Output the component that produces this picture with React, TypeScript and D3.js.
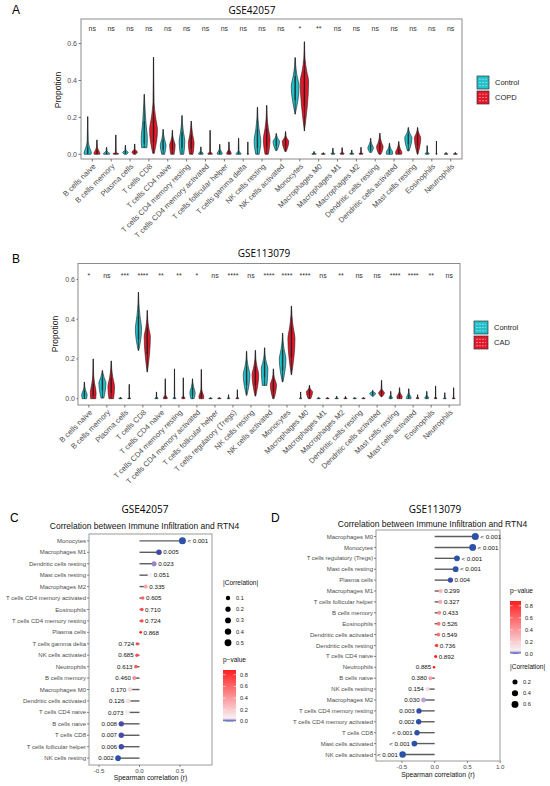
import React from 'react';
import * as d3 from 'd3';

// ---------- DATA ----------
// violin tuple: [lo, peak, bodyTop, hi, relWidth, baseWidth]
type V = [number, number, number, number, number, number];

const cellsA = ["B cells naive","B cells memory","Plasma cells","T cells CD8","T cells CD4 naive","T cells CD4 memory resting","T cells CD4 memory activated","T cells follicular helper","T cells gamma delta","NK cells resting","NK cells activated","Monocytes","Macrophages M0","Macrophages M1","Macrophages M2","Dendritic cells resting","Dendritic cells activated","Mast cells resting","Eosinophils","Neutrophils"];
const sigA = ["ns","ns","ns","ns","ns","ns","ns","ns","ns","ns","ns","*","**","ns","ns","ns","ns","ns","ns","ns"];
const controlA: V[] = [
  [0,0.005,0.07,0.204,0.8,0.9],[0,0.003,0.02,0.038,0.7,0.9],[0,0.01,0.025,0.049,0.6,0.4],[0.036,0.08,0.28,0.325,0.66,0.85],
  [0,0.05,0.11,0.135,0.62,0.5],[0,0.07,0.17,0.21,0.62,0.6],[0,0.004,0.02,0.04,0.5,0.9],[0,0.005,0.03,0.054,0.55,0.9],
  [0,0.003,0.02,0.087,0.55,0.9],[0,0.07,0.2,0.255,0.72,0.5],[0.02,0.07,0.1,0.113,0.7,0.2],[0.217,0.367,0.48,0.524,0.85,0],
  [0,0.002,0.008,0.015,0.5,0.8],[0,0.003,0.012,0.033,0.45,0.8],[0,0.003,0.01,0.023,0.45,0.8],[0.01,0.035,0.07,0.087,0.6,0.3],
  [0,0.01,0.045,0.06,0.7,0.9],[0.018,0.09,0.13,0.145,0.78,0.2],[0,0.003,0.015,0.047,0.45,0.8],[0,0.002,0.005,0.01,0.45,0.8]
];
const copdA: V[] = [
  [0,0.005,0.04,0.078,0.65,0.9],[0,0.003,0.01,0.105,0.6,0.9],[0,0.012,0.028,0.056,0.6,0.4],[0.005,0.13,0.28,0.526,0.85,0.2],
  [0,0.05,0.1,0.13,0.6,0.6],[0,0.06,0.15,0.18,0.62,0.6],[0,0.003,0.015,0.13,0.5,0.9],[0,0.005,0.03,0.067,0.5,0.9],
  [0,0.002,0.006,0.067,0.2,0.6],[0,0.08,0.2,0.265,0.72,0.5],[0.015,0.07,0.1,0.123,0.7,0.2],[0.126,0.394,0.52,0.61,0.9,0],
  [0,0.002,0.005,0.009,0.45,0.8],[0,0.003,0.014,0.036,0.45,0.8],[0,0.003,0.012,0.038,0.45,0.8],[0,0.04,0.09,0.114,0.7,0.3],
  [0,0.01,0.05,0.069,0.68,0.9],[0,0.09,0.13,0.145,0.68,0.1],[0,0.002,0.006,0.072,0.15,0.6],[0,0.002,0.005,0.01,0.45,0.8]
];

const cellsB = ["B cells naive","B cells memory","Plasma cells","T cells CD8","T cells CD4 naive","T cells CD4 memory resting","T cells CD4 memory activated","T cells follicular helper","T cells regulatory (Tregs)","NK cells resting","NK cells activated","Monocytes","Macrophages M0","Macrophages M1","Macrophages M2","Dendritic cells resting","Dendritic cells activated","Mast cells resting","Mast cells activated","Eosinophils","Neutrophils"];
const sigB = ["*","ns","***","****","**","**","*","ns","****","ns","****","****","****","ns","**","ns","ns","****","****","**","ns"];
const controlB: V[] = [
  [0,0.02,0.06,0.084,0.62,0.8],[0.003,0.08,0.13,0.142,0.8,0.4],[0,0.002,0.004,0.008,0.4,0.8],[0.243,0.35,0.48,0.536,0.7,0.1],
  [0,0.002,0.01,0.034,0.4,0.8],[0,0.002,0.01,0.15,0.35,0.8],[0,0.03,0.08,0.1,0.6,0.6],[0,0.002,0.004,0.006,0.4,0.8],
  [0,0.002,0.006,0.02,0.35,0.8],[0.017,0.12,0.2,0.238,0.75,0.1],[0.067,0.15,0.22,0.256,0.75,0.7],[0.084,0.2,0.29,0.33,0.75,0.1],
  [0,0.002,0.006,0.034,0.3,0.8],[0,0.002,0.004,0.006,0.4,0.8],[0,0.002,0.005,0.013,0.4,0.8],[0,0.002,0.004,0.006,0.4,0.8],
  [0.012,0.027,0.037,0.042,0.65,0.2],[0,0.004,0.02,0.037,0.4,0.8],[0,0.005,0.03,0.05,0.55,0.9],[0,0.004,0.02,0.037,0.45,0.8],
  [0,0.002,0.006,0.03,0.35,0.8]
];
const cadB: V[] = [
  [0,0.03,0.12,0.2,0.65,0.9],[0,0.06,0.15,0.19,0.75,0.7],[0,0.002,0.004,0.072,0.35,0.8],[0.134,0.31,0.4,0.444,0.7,0.05],
  [0,0.003,0.02,0.1,0.5,0.8],[0,0.003,0.015,0.105,0.4,0.8],[0,0.01,0.05,0.147,0.55,0.9],[0,0.002,0.004,0.006,0.4,0.8],
  [0,0.002,0.008,0.045,0.35,0.8],[0.013,0.12,0.2,0.243,0.75,0.1],[0,0.07,0.12,0.15,0.7,0.2],[0.12,0.3,0.42,0.466,0.8,0.05],
  [0,0.035,0.055,0.067,0.7,0.4],[0,0.002,0.004,0.006,0.4,0.8],[0,0.002,0.005,0.012,0.4,0.8],[0,0.002,0.004,0.006,0.4,0.8],
  [0.01,0.03,0.05,0.092,0.65,0.2],[0,0.01,0.035,0.055,0.6,0.9],[0,0.003,0.01,0.02,0.3,0.8],[0,0.003,0.01,0.064,0.3,0.8],
  [0,0.002,0.006,0.055,0.35,0.8]
];
const violinTicks = [0, 0.2, 0.4, 0.6];

const cellsC = ["Monocytes","Macrophages M1","Dendritic cells resting","Mast cells resting","Macrophages M2","T cells CD4 memory activated","Eosinophils","T cells CD4 memory resting","Plasma cells","T cells gamma delta","NK cells activated","Neutrophils","B cells memory","Macrophages M0","Dendritic cells activated","T cells CD4 naive","B cells naive","T cells CD8","T cells follicular helper","NK cells resting"];
const rC = [0.53,0.24,0.18,0.13,0.077,0.04,0.03,0.03,0.015,-0.028,-0.032,-0.045,-0.064,-0.117,-0.138,-0.15,-0.225,-0.225,-0.225,-0.265];
const pC = [0.0005,0.005,0.023,0.051,0.335,0.605,0.710,0.724,0.868,0.724,0.685,0.613,0.460,0.170,0.126,0.073,0.008,0.007,0.006,0.002];
const ticksC = [-0.5, 0, 0.5];
const sizeBreaksC = [0.1, 0.2, 0.3, 0.4, 0.5];

const cellsD = ["Macrophages M0","Monocytes","T cells regulatory (Tregs)","Mast cells resting","Plasma cells","Macrophages M1","T cells follicular helper","B cells memory","Eosinophils","Dendritic cells activated","Dendritic cells resting","T cells CD4 naive","Neutrophils","B cells naive","NK cells resting","Macrophages M2","T cells CD4 memory resting","T cells CD4 memory activated","T cells CD8","Mast cells activated","NK cells activated"];
const rD = [0.62,0.58,0.34,0.32,0.24,0.09,0.086,0.07,0.06,0.056,0.03,0.015,-0.01,-0.066,-0.11,-0.17,-0.24,-0.245,-0.27,-0.31,-0.49];
const pD = [0.0005,0.0005,0.0005,0.0005,0.004,0.299,0.327,0.433,0.526,0.549,0.736,0.892,0.885,0.380,0.154,0.030,0.003,0.002,0.0005,0.0005,0.0005];
const ticksD = [-0.5, 0, 0.5, 1.0];
const sizeBreaksD = [0.2, 0.4, 0.6];
const pBreaks = [0, 0.2, 0.4, 0.6, 0.8];

// ---------- STYLE ----------
const FONT = '"Liberation Sans", Arial, sans-serif';
const TFONT = '"Open Sans", "Liberation Sans", sans-serif';
const CTRL = '#22C0CB';
const CASE = '#E5182B';
const GRAY = '#4D4D4D';

const pColor = d3.scaleLinear<string>()
  .domain([0, 0.002, 0.008, 0.03, 0.05, 0.9])
  .range(['#2A52A8', '#2E4FA7', '#4C4AA4', '#B9A3DA', '#F8F2F6', '#FF1A1A'])
  .clamp(true);

function violinPath(v: V, cx: number, y: d3.ScaleLinear<number, number>, half: number) {
  const [lo, peak, top, hi, w, b] = v;
  const raw: [number, number][] = [[lo, b], [peak, 1], [(peak + top) / 2, 0.5], [top, 0.14], [hi, 0.03]];
  const pts: [number, number][] = [];
  raw.forEach(pt => { if (!pts.length || pt[0] > pts[pts.length - 1][0] + 1e-6) pts.push(pt); });
  const area = d3.area<[number, number]>()
    .y(d => y(d[0]))
    .x0(d => cx - d[1] * w * half)
    .x1(d => cx + d[1] * w * half)
    .curve(d3.curveMonotoneY);
  return area(pts) || '';
}

type VP = {
  cats: string[]; sig: string[]; ctrl: V[]; cas: V[]; caseName: string;
  x0: number; x1: number; y0: number; y1: number; yDom: [number, number];
  title: string; titleX: number; titleY: number; letter: string; letterY: number;
  yTitleX: number; yTitleY: number; tickLabelX: number; sigY: number;
  legX: number; legY: number; keyW: number; keyH: number; keyGap: number;
};

function ViolinPanel(p: VP) {
  const x = d3.scalePoint<string>().domain(p.cats).range([p.x0, p.x1]).padding(0.6);
  const y = d3.scaleLinear().domain(p.yDom).range([p.y1, p.y0]);
  const step = x.step();
  const off = step * 0.245;
  const half = step * 0.245;
  const groups = [{ data: p.ctrl, color: CTRL, dx: -off }, { data: p.cas, color: CASE, dx: off }];
  return (
    <g>
      <text x={12} y={p.letterY} fontFamily={FONT} fontSize={12}>{p.letter}</text>
      <text x={p.titleX} y={p.titleY} fontFamily={TFONT} fontSize={10} textAnchor="middle">{p.title}</text>
      <rect x={p.x0} y={p.y0} width={p.x1 - p.x0} height={p.y1 - p.y0} fill="white" stroke="#8c8c8c" strokeWidth={1} />
      {violinTicks.map(t => (
        <g key={t}>
          <line x1={p.tickLabelX + 1.5} x2={p.x0} y1={y(t)} y2={y(t)} stroke="#555" strokeWidth={0.8} />
          <text x={p.tickLabelX} y={y(t)} dy="0.35em" textAnchor="end" fontFamily={FONT} fontSize={7} fill={GRAY}>{t.toFixed(1)}</text>
        </g>
      ))}
      <text transform={`translate(${p.yTitleX},${p.yTitleY}) rotate(-90)`} textAnchor="middle" fontFamily={FONT} fontSize={8.5} fill="#222">Propotion</text>
      {p.cats.map((c, i) => {
        const cx = x(c)!;
        return (
          <g key={c}>
            <line x1={cx} x2={cx} y1={p.y1} y2={p.y1 + 2.5} stroke="#555" strokeWidth={0.8} />
            <text transform={`translate(${cx + 2},${p.y1 + 6}) rotate(-45)`} textAnchor="end" dy="0.35em" fontFamily={FONT} fontSize={7.6} fill={GRAY}>{c}</text>
            <text x={cx} y={p.sigY} dy="0.3em" textAnchor="middle" fontFamily={FONT} fontSize={7} fill="#333">{p.sig[i]}</text>
            {groups.map((g, gi) => {
              const v = g.data[i];
              const vx = cx + g.dx;
              const [lo, peak, top, hi] = v;
              return (
                <g key={gi}>
                  <path d={violinPath(v, vx, y, half)} fill={g.color} stroke="#1e1e1e" strokeWidth={0.6} />
                  <line x1={vx} x2={vx} y1={y(lo)} y2={y(hi)} stroke="#1a1a1a" strokeWidth={0.7} />
                  <rect x={vx - 0.8} width={1.6} y={y(peak + (top - peak) * 0.5)} height={Math.max(0.6, y(lo + (peak - lo) * 0.5) - y(peak + (top - peak) * 0.5))} fill="#1a1a1a" opacity={0.55} />
                </g>
              );
            })}
          </g>
        );
      })}
      {[{ name: 'Control', color: CTRL }, { name: p.caseName, color: CASE }].map((l, i) => {
        const ky = p.legY + i * (p.keyH + p.keyGap);
        return (
          <g key={l.name}>
            <rect x={p.legX} y={ky} width={p.keyW} height={p.keyH} fill={l.color} stroke="#333" strokeWidth={0.7} />
            {[0.25, 0.5, 0.75].map(f => (
              <line key={f} x1={p.legX + 2} x2={p.legX + p.keyW - 2} y1={ky + p.keyH * f} y2={ky + p.keyH * f} stroke="rgba(255,255,255,0.55)" strokeWidth={0.8} strokeDasharray="2 1" />
            ))}
            <text x={p.legX + p.keyW + 6} y={ky + p.keyH / 2} dy="0.35em" fontFamily={FONT} fontSize={7.5} fill="#222">{l.name}</text>
          </g>
        );
      })}
    </g>
  );
}

type LP = {
  cats: string[]; r: number[]; p: number[]; ticks: number[];
  x0: number; x1: number; y0: number; y1: number; xDom: [number, number];
  title: string; titleX: number; subX: number; subY: number; letter: string; letterX: number;
  sizeBreaks: number[]; legX: number; sizeY: number; colorY: number; barW: number; barPx: number; gid: string;
  tickGap: number; titleGap: number;
};

function LollipopPanel(q: LP) {
  const x = d3.scaleLinear().domain(q.xDom).range([q.x0, q.x1]);
  const y = d3.scalePoint<string>().domain(q.cats).range([q.y0, q.y1]).padding(0.6);
  const ext = d3.extent(q.r.map(Math.abs)) as [number, number];
  const rad = (a: number) => 1.3 + 2.2 * Math.sqrt(Math.max(0, (a - ext[0]) / (ext[1] - ext[0])));
  const fmt = (pv: number) => (pv < 0.001 ? '< 0.001' : pv.toFixed(3));
  const pTop = 0.88;
  const stops = d3.range(0, 41).map(i => (i / 40) * pTop);
  const barBottom = q.colorY + 8 + q.barPx * pTop;
  const barY = d3.scaleLinear().domain([0, pTop]).range([barBottom, barBottom - q.barPx * pTop]);
  return (
    <g>
      <defs>
        <linearGradient id={q.gid} x1="0" y1="1" x2="0" y2="0">
          {stops.map((s, i) => <stop key={i} offset={`${(s / pTop) * 100}%`} stopColor={pColor(s)} />)}
        </linearGradient>
      </defs>
      <text x={q.letterX} y={522} fontFamily={FONT} fontSize={12}>{q.letter}</text>
      <text x={q.titleX} y={513} fontFamily={TFONT} fontSize={10} textAnchor="middle">{q.title}</text>
      <text x={q.subX} y={q.subY} fontFamily={FONT} fontSize={8.5} textAnchor="middle" fill="#111">Correlation between Immune Infiltration and RTN4</text>
      <rect x={q.x0} y={q.y0} width={q.x1 - q.x0} height={q.y1 - q.y0} fill="white" stroke="#9a9a9a" strokeWidth={1} />
      {q.ticks.map(t => (
        <g key={t}>
          <line x1={x(t)} x2={x(t)} y1={q.y1} y2={q.y1 + 2} stroke="#555" strokeWidth={0.7} />
          <text x={x(t)} y={q.y1 + q.tickGap} dy="0.7em" textAnchor="middle" fontFamily={FONT} fontSize={6.2} fill={GRAY}>{t.toFixed(1)}</text>
        </g>
      ))}
      <text x={(q.x0 + q.x1) / 2} y={q.y1 + q.titleGap} dy="0.7em" textAnchor="middle" fontFamily={FONT} fontSize={6.8} fill="#111">Spearman correlation (r)</text>
      {q.cats.map((c, i) => {
        const cy = y(c)!;
        const rv = q.r[i];
        const cx = x(rv);
        const rr = rad(Math.abs(rv));
        return (
          <g key={c}>
            <line x1={q.x0 - 2} x2={q.x0} y1={cy} y2={cy} stroke="#555" strokeWidth={0.7} />
            <text x={q.x0 - 3} y={cy} dy="0.35em" textAnchor="end" fontFamily={FONT} fontSize={6} fill={GRAY}>{c}</text>
            <line x1={x(0)} x2={cx} y1={cy} y2={cy} stroke="#5c5c5c" strokeWidth={1.4} />
            <circle cx={cx} cy={cy} r={rr} fill={pColor(q.p[i])} />
            <text x={rv >= 0 ? cx + rr + 1.5 : cx - rr - 1.5} y={cy} dy="0.35em" textAnchor={rv >= 0 ? 'start' : 'end'} fontFamily={FONT} fontSize={6.2} fill="#111">{fmt(q.p[i])}</text>
          </g>
        );
      })}
      {/* size legend */}
      <text x={q.legX} y={q.sizeY} fontFamily={FONT} fontSize={6.5} fill="#111">|Correlation|</text>
      {q.sizeBreaks.map((s, i) => (
        <g key={s}>
          <circle cx={q.legX + 5} cy={q.sizeY + 13 + i * 11.2} r={rad(s)} fill="black" />
          <text x={q.legX + 13} y={q.sizeY + 13 + i * 11.2} dy="0.35em" fontFamily={FONT} fontSize={5.6} fill="#222">{s.toFixed(1)}</text>
        </g>
      ))}
      {/* color legend */}
      <text x={q.legX} y={q.colorY} fontFamily={FONT} fontSize={6.5} fill="#111">p−value</text>
      <rect x={q.legX} y={barY(pTop)} width={q.barW} height={barY(0) - barY(pTop)} fill={`url(#${q.gid})`} />
      {pBreaks.map(b => (
        <g key={b}>
          <line x1={q.legX} x2={q.legX + 2.5} y1={barY(b)} y2={barY(b)} stroke="white" strokeWidth={0.6} />
          <line x1={q.legX + q.barW - 2.5} x2={q.legX + q.barW} y1={barY(b)} y2={barY(b)} stroke="white" strokeWidth={0.6} />
          <text x={q.legX + q.barW + 4} y={barY(b)} dy="0.35em" fontFamily={FONT} fontSize={5.6} fill="#222">{b.toFixed(1)}</text>
        </g>
      ))}
    </g>
  );
}

export default function App() {
  return (
    <svg width={550} height={786} viewBox="0 0 550 786" style={{ position: 'absolute', left: 0, top: 0, background: 'white' }}>
      <rect x={0} y={0} width={550} height={786} fill="white" />
      <ViolinPanel cats={cellsA} sig={sigA} ctrl={controlA} cas={copdA} caseName="COPD"
        x0={81} x1={462} y0={19} y1={159} yDom={[-0.0255, 0.7333]}
        title="GSE42057" titleX={252} titleY={14} letter="A" letterY={13.5}
        yTitleX={61} yTitleY={90} tickLabelX={77} sigY={29}
        legX={477} legY={76} keyW={12} keyH={13} keyGap={2} />
      <ViolinPanel cats={cellsB} sig={sigB} ctrl={controlB} cas={cadB} caseName="CAD"
        x0={78} x1={460} y0={263.5} y1={405} yDom={[-0.0317, 0.68]}
        title="GSE113079" titleX={264} titleY={257} letter="B" letterY={263}
        yTitleX={58} yTitleY={334} tickLabelX={75} sigY={276}
        legX={474} legY={321} keyW={14} keyH={13} keyGap={2} />
      <LollipopPanel cats={cellsC} r={rC} p={pC} ticks={ticksC}
        x0={89} x1={212} y0={534} y1={765} xDom={[-0.6235, 0.895]}
        title="GSE42057" titleX={145} subX={144.5} subY={529} letter="C" letterX={10}
        sizeBreaks={sizeBreaksC} legX={223} sizeY={585} colorY={662} barW={13} barPx={58.5} gid="gradC"
        tickGap={3.5} titleGap={10.5} />
      <LollipopPanel cats={cellsD} r={rD} p={pD} ticks={ticksD}
        x0={376} x1={500} y0={530} y1={761} xDom={[-0.896, 0.997]}
        title="GSE113079" titleX={435} subX={432.5} subY={526.5} letter="D" letterX={271}
        sizeBreaks={sizeBreaksD} legX={510} sizeY={669} colorY={593} barW={11} barPx={60} gid="gradD"
        tickGap={3.5} titleGap={11.5} />
    </svg>
  );
}
